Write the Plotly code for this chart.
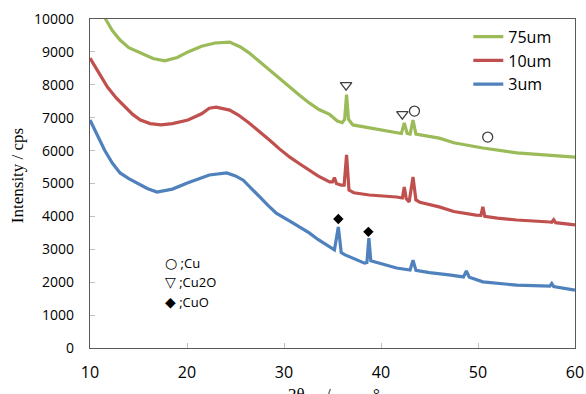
import plotly.graph_objects as go

# ---- data ----
x_75 = [10.0, 11.6, 12.3, 13.1, 14.0, 15.2, 16.5, 17.7, 19.0, 20.1, 21.5, 22.9, 24.4, 25.5, 26.4,
        27.5, 28.5, 29.5, 30.6, 31.6, 32.6, 33.6, 34.7, 35.5, 36.0, 36.25, 36.45, 36.65, 37.1,
        38.8, 40.9, 42.1, 42.4, 42.7, 43.0, 43.3, 43.6, 45.0, 46.0, 47.5, 50.5, 54.0, 57.4, 60.0]
y_75 = [10700, 10000, 9650, 9360, 9130, 8970, 8800, 8730, 8830, 9000, 9170, 9270, 9300, 9150, 8970,
        8700, 8450, 8180, 7930, 7680, 7450, 7250, 7100, 6900, 6850, 6950, 7700, 6950, 6780,
        6690, 6570, 6520, 6840, 6520, 6500, 6930, 6500, 6440, 6380, 6240, 6080, 5930, 5870, 5800]

x_10 = [10.0, 11.0, 11.8, 12.7, 13.6, 14.4, 15.2, 16.2, 17.3, 18.5, 20.1, 21.5, 22.3, 23.0, 24.4,
        25.3, 26.4, 27.5, 28.5, 29.5, 30.6, 31.6, 32.6, 33.5, 34.7, 35.0, 35.2, 35.4, 35.9, 36.2,
        36.45, 36.7, 37.2, 38.8, 41.6, 42.2, 42.4, 42.6, 42.9, 43.3, 43.6, 44.0, 46.0, 47.5, 49.8,
        50.3, 50.5, 50.7, 52.0, 54.0, 57.4, 57.6, 57.8, 58.0, 60.0]
y_10 = [8810, 8300, 7930, 7600, 7330, 7100, 6930, 6820, 6780, 6820, 6930, 7120, 7290, 7320, 7230,
        7080, 6840, 6580, 6320, 6060, 5800, 5600, 5410, 5230, 5050, 5050, 5180, 5000, 4950, 4950,
        5870, 4800, 4720, 4650, 4590, 4560, 4890, 4540, 4440, 5200, 4500, 4430, 4290, 4150, 4040,
        4030, 4290, 4000, 3950, 3890, 3830, 3820, 3900, 3810, 3740]

x_3 = [10.0, 10.8, 11.5, 12.3, 13.1, 14.0, 14.9, 15.9, 16.9, 18.5, 20.1, 21.5, 22.3, 24.1, 25.0,
       25.8, 26.5, 27.5, 28.3, 29.2, 30.9, 32.6, 33.5, 34.7, 35.2, 35.6, 35.9, 36.3, 37.5, 38.3,
       38.55, 38.75, 38.95, 39.5, 41.6, 43.0, 43.3, 43.6, 45.0, 47.0, 48.5, 48.8, 49.1, 50.5, 54.0,
       57.4, 57.6, 57.8, 60.0]
y_3 = [6930, 6440, 6020, 5620, 5320, 5150, 5020, 4850, 4740, 4830, 5020, 5180, 5260, 5320, 5230,
       5100, 4900, 4590, 4350, 4100, 3800, 3500, 3300, 3070, 2980, 3680, 2900, 2830, 2670, 2580,
       2600, 3340, 2650, 2600, 2430, 2370, 2670, 2360, 2290, 2220, 2160, 2340, 2150, 2010, 1910,
       1880, 1960, 1870, 1760]

# peak markers
cu2o_x = [36.4, 42.2]
cu2o_y = [7990, 7110]
cu_x = [43.45, 51.0]
cu_y = [7200, 6410]
cuo_x = [35.6, 38.7]
cuo_y = [3920, 3530]

x_ticks = [10, 20, 30, 40, 50, 60]
y_ticks = list(range(0, 10001, 1000))
y_tick_text = [str(v) for v in y_ticks]

fig = go.Figure()
LW = 3.2
fig.add_trace(go.Scatter(x=x_75, y=y_75, mode="lines", name="75um",
                         line=dict(color="#9BBB59", width=LW)))
fig.add_trace(go.Scatter(x=x_10, y=y_10, mode="lines", name="10um",
                         line=dict(color="#C0504D", width=LW)))
fig.add_trace(go.Scatter(x=x_3, y=y_3, mode="lines", name="3um",
                         line=dict(color="#4F81BD", width=LW)))

fig.add_trace(go.Scatter(x=cu2o_x, y=cu2o_y, mode="markers", showlegend=False,
                         marker=dict(symbol="triangle-down-open", size=10, color="#404040",
                                     line=dict(width=1.3, color="#404040"))))
fig.add_trace(go.Scatter(x=cu_x, y=cu_y, mode="markers", showlegend=False,
                         marker=dict(symbol="circle-open", size=10, color="#404040",
                                     line=dict(width=1.3, color="#404040"))))
fig.add_trace(go.Scatter(x=cuo_x, y=cuo_y, mode="markers", showlegend=False,
                         marker=dict(symbol="diamond", size=8, color="black")))

axis_common = dict(showline=True, linecolor="#595959", linewidth=1.2, mirror=True,
                   ticks="inside", ticklen=5, tickcolor="#BFBFBF", showgrid=False,
                   zeroline=False, automargin=False)

fig.update_xaxes(range=[10, 60], tickvals=x_ticks, ticklabelstandoff=10,
                 tickfont=dict(family="Open Sans", size=16, color="black"), **axis_common)
fig.update_yaxes(range=[0, 10000], tickvals=y_ticks, ticktext=y_tick_text, ticklabelstandoff=12,
                 tickfont=dict(family="Open Sans", size=14, color="black"), **axis_common)

ann = []
ann.append(dict(text="Intensity / cps", xref="paper", yref="paper", x=-0.148, y=0.523,
                textangle=-90, showarrow=False, xanchor="center", yanchor="middle",
                font=dict(family="Liberation Serif", size=17, color="black")))
ann.append(dict(text="2θ" + "\u00a0" * 5 + "/" + "\u00a0" * 10 + "°", xref="paper", yref="paper",
                x=0.503, y=-0.141, showarrow=False, xanchor="center", yanchor="middle",
                font=dict(family="Liberation Serif", size=17, color="black")))
key_rows = [("○", ";Cu", 0.258), ("▽", ";Cu2O", 0.200), ("◆", ";CuO", 0.140)]
for sym, lab, yy in key_rows:
    ann.append(dict(text='<span style="font-family:DejaVu Sans;font-size:14px">' + sym + '</span> ' + lab,
                    xref="paper", yref="paper", x=0.150, y=yy, showarrow=False,
                    xanchor="left", yanchor="middle",
                    font=dict(family="Open Sans", size=13, color="black")))

fig.update_layout(
    width=586, height=394,
    margin=dict(l=90, r=11, t=19, b=46, autoexpand=False),
    paper_bgcolor="white", plot_bgcolor="white",
    annotations=ann,
    legend=dict(x=0.78, y=0.998, xanchor="left", yanchor="top",
                font=dict(family="Open Sans", size=16, color="black"),
                bgcolor="rgba(0,0,0,0)", tracegroupgap=0, itemwidth=30),
    showlegend=True,
)

# remove the default page margin so the figure fills the window exactly
fig.write_html("out.html", config={"displayModeBar": False},
               post_script="document.body.style.margin='0';document.body.style.overflow='hidden';")
